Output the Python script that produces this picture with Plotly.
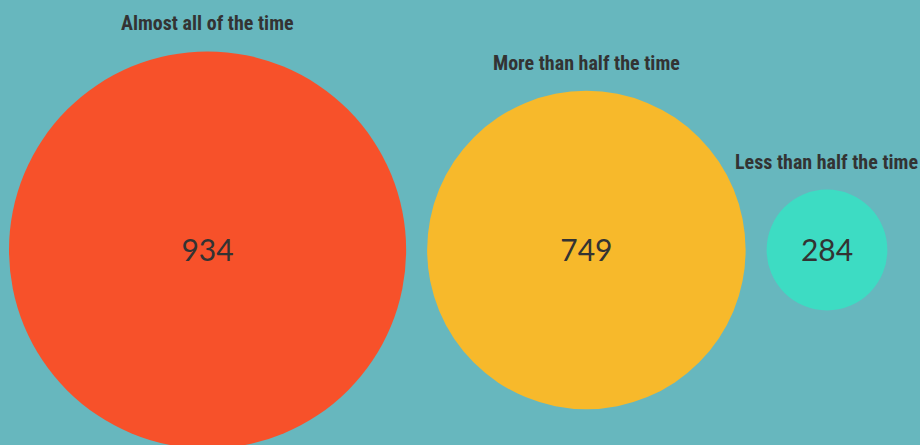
import plotly.graph_objects as go

categories = ["Almost all of the time", "More than half the time", "Less than half the time"]
values = [934, 749, 284]
colors = ["#F7512A", "#F7B92B", "#3DDCC3"]

W, H = 920, 445
K = 0.2126          # px radius per unit of value
GAP = 21            # px gap between circles
X0 = 9              # left edge of first circle
CY = 250            # vertical centre line

radii = [K * v for v in values]
centers = []
x = X0
for r in radii:
    centers.append(x + r)
    x += 2 * r + GAP

fig = go.Figure()
fig.add_trace(go.Scatter(
    x=centers, y=[CY] * len(values),
    mode="markers",
    marker=dict(size=[2 * r for r in radii], color=colors, line=dict(width=0), opacity=1),
    hoverinfo="skip",
    showlegend=False,
))
fig.add_trace(go.Scatter(
    x=centers, y=[CY + 3] * len(values),
    mode="text",
    text=[str(v) for v in values],
    textposition="middle center",
    textfont=dict(family="Lato, 'Open Sans', sans-serif", size=30, color="#333333"),
    hoverinfo="skip",
    showlegend=False,
))

for c, r, lab in zip(centers, radii, categories):
    fig.add_annotation(
        x=c, y=CY - r - 28, text=f"<b>{lab}</b>", showarrow=False,
        xanchor="center", yanchor="middle",
        font=dict(family="'Roboto Condensed', 'Liberation Sans Narrow', Roboto, sans-serif", size=20, color="#333333"),
    )

fig.update_layout(
    width=W, height=H,
    margin=dict(l=0, r=0, t=0, b=0),
    paper_bgcolor="#67B7BE",
    plot_bgcolor="#67B7BE",
    xaxis=dict(range=[0, W], visible=False, fixedrange=True),
    yaxis=dict(range=[H, 0], visible=False, fixedrange=True),
)

fig.write_html(
    "out.html",
    config={"displayModeBar": False},
    post_script="document.body.style.margin='0';document.body.style.overflow='hidden';",
)
